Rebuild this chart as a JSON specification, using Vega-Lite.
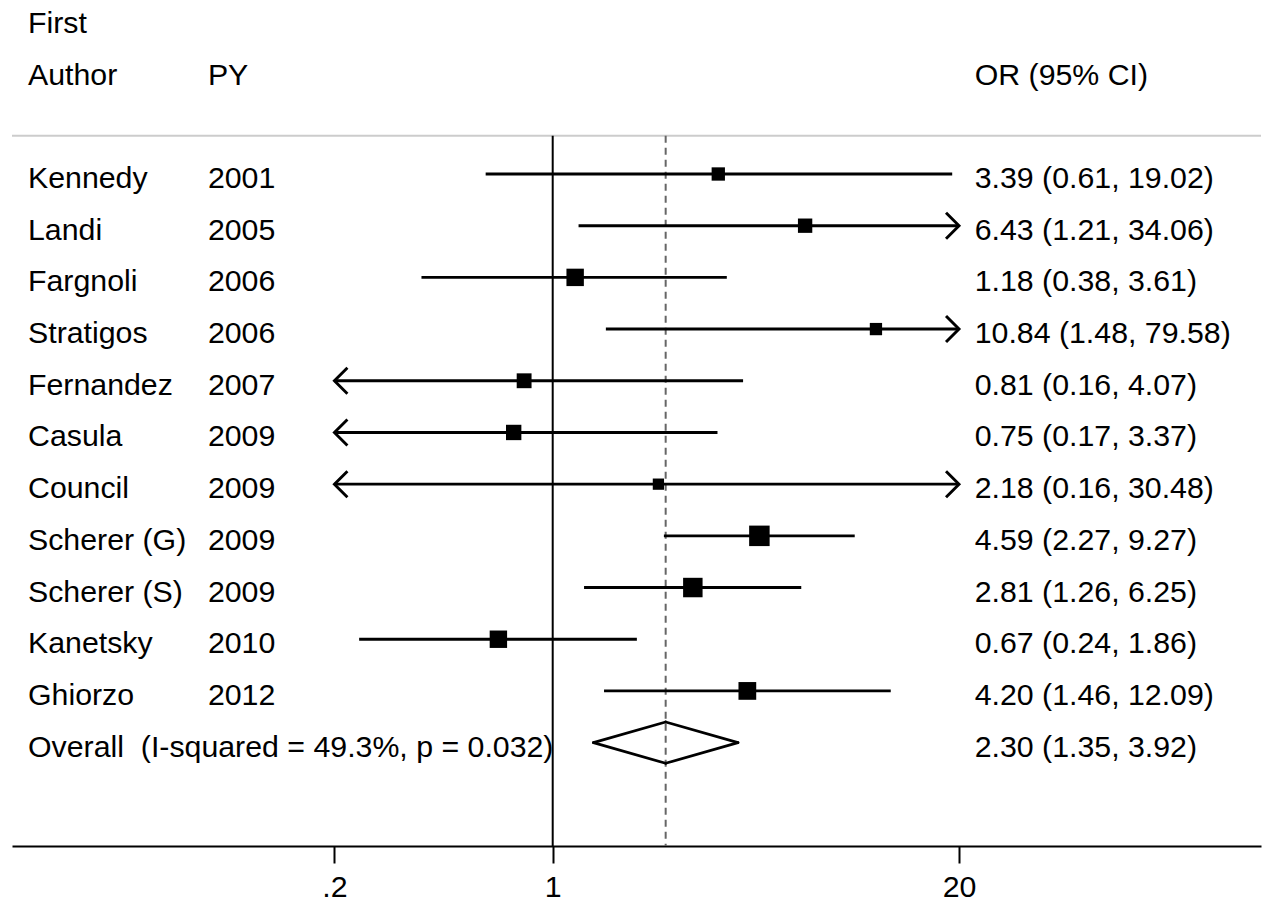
{
  "$schema": "https://vega.github.io/schema/vega-lite/v6.json",
  "width": 1249,
  "height": 846,
  "padding": {"left": 11, "top": 0, "right": 9, "bottom": 4},
  "background": "white",
  "config": {
    "view": {"stroke": null},
    "text": {"font": "Liberation Sans", "fontSize": 30.3, "color": "black"},
    "axis": {"grid": false}
  },
  "resolve": {"axis": {"x": "independent", "y": "independent"}},
  "datasets": {
    "studies": [
      {"row": 1, "type": "study", "author": "Kennedy", "year": "2001", "or": 3.39, "lo": 0.61, "hi": 19.02, "weight": 6.25, "est": "3.39 (0.61, 19.02)"},
      {"row": 2, "type": "study", "author": "Landi", "year": "2005", "or": 6.43, "lo": 1.21, "hi": 34.06, "weight": 7.25, "est": "6.43 (1.21, 34.06)"},
      {"row": 3, "type": "study", "author": "Fargnoli", "year": "2006", "or": 1.18, "lo": 0.38, "hi": 3.61, "weight": 10.69, "est": "1.18 (0.38, 3.61)"},
      {"row": 4, "type": "study", "author": "Stratigos", "year": "2006", "or": 10.84, "lo": 1.48, "hi": 79.58, "weight": 5.33, "est": "10.84 (1.48, 79.58)"},
      {"row": 5, "type": "study", "author": "Fernandez", "year": "2007", "or": 0.81, "lo": 0.16, "hi": 4.07, "weight": 7.77, "est": "0.81 (0.16, 4.07)"},
      {"row": 6, "type": "study", "author": "Casula", "year": "2009", "or": 0.75, "lo": 0.17, "hi": 3.37, "weight": 8.32, "est": "0.75 (0.17, 3.37)"},
      {"row": 7, "type": "study", "author": "Council", "year": "2009", "or": 2.18, "lo": 0.16, "hi": 30.48, "weight": 4.47, "est": "2.18 (0.16, 30.48)"},
      {"row": 8, "type": "study", "author": "Scherer (G)", "year": "2009", "or": 4.59, "lo": 2.27, "hi": 9.27, "weight": 14.79, "est": "4.59 (2.27, 9.27)"},
      {"row": 9, "type": "study", "author": "Scherer (S)", "year": "2009", "or": 2.81, "lo": 1.26, "hi": 6.25, "weight": 13.35, "est": "2.81 (1.26, 6.25)"},
      {"row": 10, "type": "study", "author": "Kanetsky", "year": "2010", "or": 0.67, "lo": 0.24, "hi": 1.86, "weight": 10.69, "est": "0.67 (0.24, 1.86)"},
      {"row": 11, "type": "study", "author": "Ghiorzo", "year": "2012", "or": 4.20, "lo": 1.46, "hi": 12.09, "weight": 11.09, "est": "4.20 (1.46, 12.09)"},
      {"row": 12, "type": "overall", "author": "Overall\u00a0 (I-squared = 49.3%, p = 0.032)", "year": null, "or": 2.30, "lo": 1.35, "hi": 3.92, "weight": null, "est": "2.30 (1.35, 3.92)"}
    ]
  },
  "data": {"name": "studies"},
  "layer": [
    {
      "data": {"values": [{}]},
      "mark": {"type": "rule", "color": "#cccccc", "strokeWidth": 2},
      "encoding": {
        "y": {"datum": 0.259, "type": "quantitative", "scale": {"domain": [-2.366, 14], "reverse": true, "nice": false, "zero": false}, "axis": null}
      }
    },
    {
      "data": {"values": [{}]},
      "mark": {"type": "rule", "color": "black", "strokeWidth": 2},
      "encoding": {
        "x": {"datum": 1, "type": "quantitative", "scale": {"type": "log", "domain": [0.018563, 185.35], "nice": false}, "axis": null},
        "y": {"datum": 0.259, "type": "quantitative", "axis": null},
        "y2": {"datum": 14}
      }
    },
    {
      "transform": [{"filter": "datum.type == 'overall'"}],
      "mark": {"type": "rule", "color": "#666666", "strokeWidth": 2, "strokeDash": [7, 5]},
      "encoding": {
        "x": {"field": "or", "type": "quantitative", "axis": null},
        "y": {"datum": 0.259, "type": "quantitative", "axis": null},
        "y2": {"datum": 14}
      }
    },
    {
      "transform": [{"filter": "datum.type == 'study' && datum.lo >= 0.2"}],
      "mark": {"type": "rule", "color": "black", "strokeWidth": 2.9},
      "encoding": {
        "x": {"field": "lo", "type": "quantitative", "axis": null},
        "x2": {"field": "or"},
        "y": {"field": "row", "type": "quantitative", "axis": null}
      }
    },
    {
      "transform": [{"filter": "datum.type == 'study' && datum.lo < 0.2"}],
      "mark": {"type": "rule", "color": "black", "strokeWidth": 2.9},
      "encoding": {
        "x": {"field": "or", "type": "quantitative", "axis": null},
        "x2": {"datum": 0.2},
        "y": {"field": "row", "type": "quantitative", "axis": null}
      }
    },
    {
      "transform": [{"filter": "datum.type == 'study' && datum.hi <= 20"}],
      "mark": {"type": "rule", "color": "black", "strokeWidth": 2.9},
      "encoding": {
        "x": {"field": "or", "type": "quantitative", "axis": null},
        "x2": {"field": "hi"},
        "y": {"field": "row", "type": "quantitative", "axis": null}
      }
    },
    {
      "transform": [{"filter": "datum.type == 'study' && datum.hi > 20"}],
      "mark": {"type": "rule", "color": "black", "strokeWidth": 2.9},
      "encoding": {
        "x": {"field": "or", "type": "quantitative", "axis": null},
        "x2": {"datum": 20},
        "y": {"field": "row", "type": "quantitative", "axis": null}
      }
    },
    {
      "transform": [{"filter": "datum.type == 'study' && datum.hi > 20"}],
      "mark": {"type": "point", "shape": "M-1,-1L0,0L-1,1", "filled": false, "stroke": "black", "strokeWidth": 2.9, "opacity": 1, "size": 676},
      "encoding": {
        "x": {"datum": 20, "type": "quantitative", "axis": null},
        "y": {"field": "row", "type": "quantitative", "axis": null}
      }
    },
    {
      "transform": [{"filter": "datum.type == 'study' && datum.lo < 0.2"}],
      "mark": {"type": "point", "shape": "M1,-1L0,0L1,1", "filled": false, "stroke": "black", "strokeWidth": 2.9, "opacity": 1, "size": 676},
      "encoding": {
        "x": {"datum": 0.2, "type": "quantitative", "axis": null},
        "y": {"field": "row", "type": "quantitative", "axis": null}
      }
    },
    {
      "transform": [{"filter": "datum.type == 'overall'"}],
      "mark": {"type": "rule", "color": "black", "strokeWidth": 2.7, "strokeCap": "round"},
      "encoding": {
        "x": {"field": "lo", "type": "quantitative", "axis": null},
        "x2": {"field": "or"},
        "y": {"datum": 12, "type": "quantitative", "axis": null},
        "y2": {"datum": 11.6}
      }
    },
    {
      "transform": [{"filter": "datum.type == 'overall'"}],
      "mark": {"type": "rule", "color": "black", "strokeWidth": 2.7, "strokeCap": "round"},
      "encoding": {
        "x": {"field": "or", "type": "quantitative", "axis": null},
        "x2": {"field": "hi"},
        "y": {"datum": 11.6, "type": "quantitative", "axis": null},
        "y2": {"datum": 12}
      }
    },
    {
      "transform": [{"filter": "datum.type == 'overall'"}],
      "mark": {"type": "rule", "color": "black", "strokeWidth": 2.7, "strokeCap": "round"},
      "encoding": {
        "x": {"field": "hi", "type": "quantitative", "axis": null},
        "x2": {"field": "or"},
        "y": {"datum": 12, "type": "quantitative", "axis": null},
        "y2": {"datum": 12.4}
      }
    },
    {
      "transform": [{"filter": "datum.type == 'overall'"}],
      "mark": {"type": "rule", "color": "black", "strokeWidth": 2.7, "strokeCap": "round"},
      "encoding": {
        "x": {"field": "or", "type": "quantitative", "axis": null},
        "x2": {"field": "lo"},
        "y": {"datum": 12.4, "type": "quantitative", "axis": null},
        "y2": {"datum": 12}
      }
    },
    {
      "mark": {"type": "text", "align": "left", "baseline": "alphabetic", "dy": 14},
      "encoding": {
        "x": {"datum": 0.02089, "type": "quantitative", "axis": null},
        "y": {"field": "row", "type": "quantitative", "axis": null},
        "text": {"field": "author", "type": "nominal"}
      }
    },
    {
      "transform": [{"filter": "datum.year != null"}],
      "mark": {"type": "text", "align": "left", "baseline": "alphabetic", "dy": 14},
      "encoding": {
        "x": {"datum": 0.0787, "type": "quantitative", "axis": null},
        "y": {"field": "row", "type": "quantitative", "axis": null},
        "text": {"field": "year", "type": "nominal"}
      }
    },
    {
      "mark": {"type": "text", "align": "left", "baseline": "alphabetic", "dy": 14},
      "encoding": {
        "x": {"datum": 22.45, "type": "quantitative", "axis": null},
        "y": {"field": "row", "type": "quantitative", "axis": null},
        "text": {"field": "est", "type": "nominal"}
      }
    },
    {
      "data": {"values": [{}]},
      "mark": {"type": "text", "align": "left", "baseline": "alphabetic", "dy": 14, "text": "First"},
      "encoding": {
        "x": {"datum": 0.02089, "type": "quantitative", "axis": null},
        "y": {"datum": -2, "type": "quantitative", "axis": null}
      }
    },
    {
      "data": {"values": [{}]},
      "mark": {"type": "text", "align": "left", "baseline": "alphabetic", "dy": 14, "text": "Author"},
      "encoding": {
        "x": {"datum": 0.02089, "type": "quantitative", "axis": null},
        "y": {"datum": -1, "type": "quantitative", "axis": null}
      }
    },
    {
      "data": {"values": [{}]},
      "mark": {"type": "text", "align": "left", "baseline": "alphabetic", "dy": 14, "text": "PY"},
      "encoding": {
        "x": {"datum": 0.0787, "type": "quantitative", "axis": null},
        "y": {"datum": -1, "type": "quantitative", "axis": null}
      }
    },
    {
      "data": {"values": [{}]},
      "mark": {"type": "text", "align": "left", "baseline": "alphabetic", "dy": 14, "text": "OR (95% CI)"},
      "encoding": {
        "x": {"datum": 22.45, "type": "quantitative", "axis": null},
        "y": {"datum": -1, "type": "quantitative", "axis": null}
      }
    },
    {
      "transform": [{"filter": "datum.type == 'study'"}],
      "mark": {"type": "point", "shape": "square", "filled": true, "color": "black", "opacity": 1, "strokeWidth": 0},
      "encoding": {
        "x": {"field": "or", "type": "quantitative",
              "scale": {"type": "log", "domain": [0.018563, 185.35], "nice": false},
              "axis": {"values": [0.2, 1, 20], "labelExpr": "datum.value < 0.5 ? '.2' : format(datum.value, 'd')",
                       "domainColor": "black", "domainWidth": 2, "tickColor": "black", "tickWidth": 2, "tickSize": 17,
                       "labelFont": "Liberation Sans", "labelFontSize": 30.3, "labelColor": "black", "labelPadding": 9,
                       "labelFlush": false, "labelOverlap": false, "title": null}},
        "y": {"field": "row", "type": "quantitative", "axis": null},
        "size": {"field": "weight", "type": "quantitative", "scale": {"type": "linear", "domain": [0, 14.79], "range": [0, 420], "zero": true}, "legend": null}
      }
    }
  ]
}
